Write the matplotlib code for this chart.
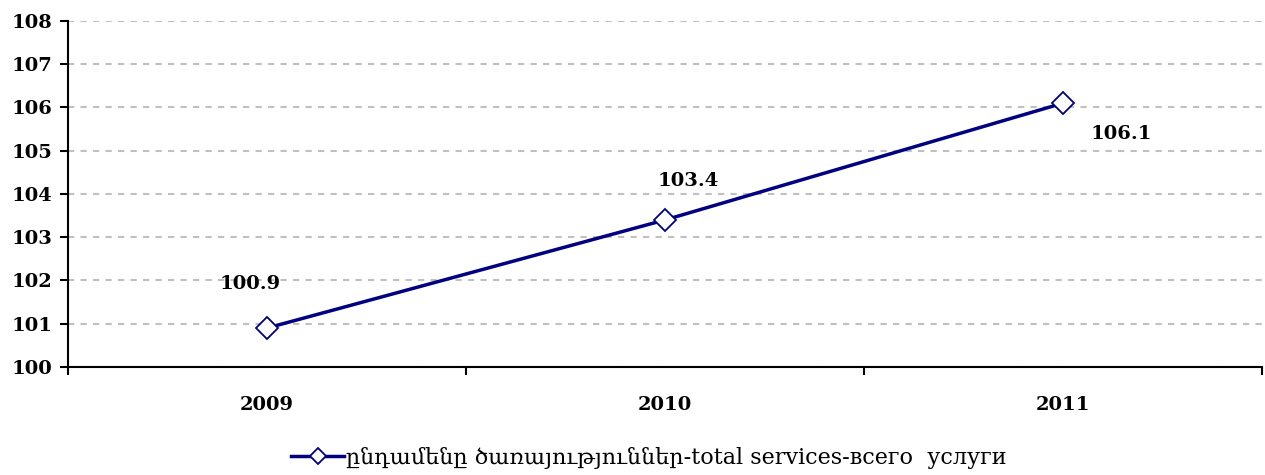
import matplotlib
matplotlib.use("Agg")
import matplotlib.pyplot as plt
import numpy as np

plt.rcParams['font.family'] = ['DejaVu Serif', 'DejaVu Sans']

years = ["2009", "2010", "2011"]
values = [100.9, 103.4, 106.1]
series_name = "ընդամենը ծառայություններ-total services-всего  услуги"
# label offsets (points) for each data label
label_offsets = [(-12, 32), (17, 28), (42, -22)]

fig = plt.figure(figsize=(12.65, 4.75), dpi=100)
ax = fig.add_axes([0.0538, 0.2274, 0.9438, 0.7284])

x = np.arange(len(years))
navy = "#000080"
ax.plot(x, values, color=navy, lw=2.5, marker="D", ms=11,
        mfc="white", mec=navy, mew=1.3, label=series_name, zorder=3)

for xi, v, off in zip(x, values, label_offsets):
    ax.annotate(f"{v:.1f}", (xi, v), xytext=off, textcoords="offset points",
                ha="center", va="center", fontsize=14, fontweight="bold")

ax.set_xlim(-0.5, len(years) - 0.5)
ax.set_ylim(100, 108)
ax.set_yticks(np.arange(100, 109, 1))
ax.set_xticks(x)
ax.set_xticklabels(years)
ax.set_xticks(np.arange(-0.5, len(years), 1), minor=True)
ax.tick_params(axis="x", which="major", length=0, pad=21, labelsize=14)
ax.tick_params(axis="x", which="minor", length=6, width=1.5, direction="out")
ax.tick_params(axis="y", length=6, width=1.5, direction="out", labelsize=14, pad=5)
for lab in ax.get_xticklabels() + ax.get_yticklabels():
    lab.set_fontweight("bold")

ax.yaxis.grid(True, color="#c0c0c0", linestyle=(0, (3, 3)), lw=1.5)
ax.set_axisbelow(True)
for s in ["top", "right"]:
    ax.spines[s].set_visible(False)
for s in ["left", "bottom"]:
    ax.spines[s].set_linewidth(1.5)

fig.legend(loc="lower center", bbox_to_anchor=(0.513, -0.03), frameon=False,
           fontsize=16, handlelength=2.4, handletextpad=0.1, markerscale=0.75)

fig.savefig("out.png", dpi=100)
